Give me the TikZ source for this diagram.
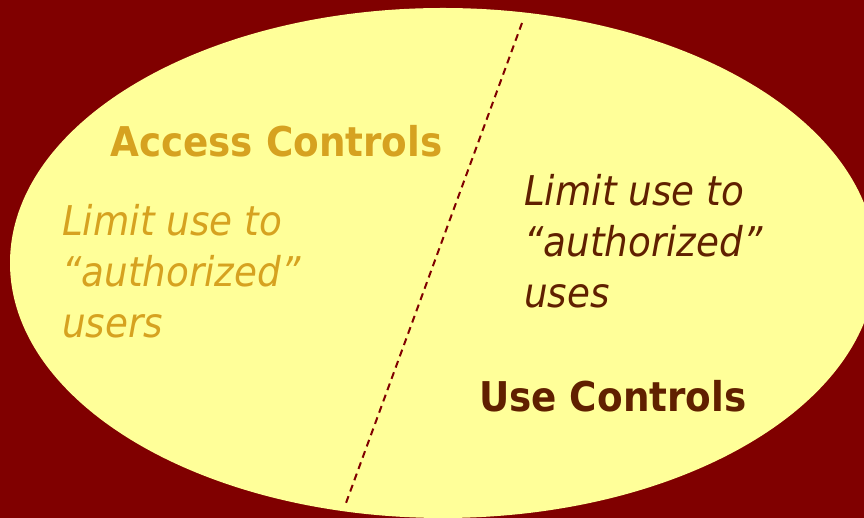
\documentclass[tikz,border=0pt]{standalone}
\usepackage{fontspec}
\setmainfont{DejaVu Sans}[FakeStretch=0.91]
\definecolor{bgred}{RGB}{128,0,0}
\definecolor{ellfill}{RGB}{255,255,153}
\definecolor{goldtxt}{RGB}{214,162,32}
\definecolor{browntxt}{RGB}{96,32,0}
\tikzset{
  headbold/.style={font=\fontsize{41}{51}\selectfont\bfseries, inner sep=0pt, anchor=base west},
  bodyital/.style={font=\fontsize{41}{51}\selectfont\itshape, inner sep=0pt, anchor=base west, align=left},
  divider/.style={draw=bgred, line width=2pt, dash pattern=on 7pt off 5pt}
}
\begin{document}
\begin{tikzpicture}[x=1pt,y=1pt]
\useasboundingbox (0,0) rectangle (864,518);
\fill[bgred] (0,0) rectangle (864,518);
\fill[ellfill] (443,255) ellipse [x radius=433, y radius=255];
\coordinate (dtop) at (522,495);
\coordinate (dbot) at (346,15);
\draw[divider] (dtop) -- (dbot);
\node[headbold, text=goldtxt] (acc) at (110,361) {Access Controls};
\node[bodyital, text=goldtxt] (accdesc) at (62,180) {Limit use to\\“authorized”\\users};
\node[bodyital, text=browntxt] (usedesc) at (524,210) {Limit use to\\“authorized”\\uses};
\node[headbold, text=browntxt] (use) at (479,106) {Use Controls};
\end{tikzpicture}
\end{document}
